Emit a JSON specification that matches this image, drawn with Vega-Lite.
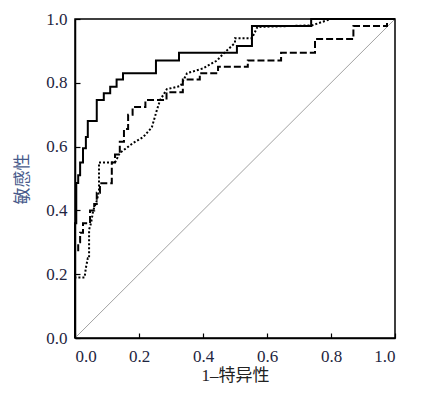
{
  "$schema": "https://vega.github.io/schema/vega-lite/v6.json",
  "autosize": {"type": "none"},
  "padding": {"left": 75, "top": 19, "right": 34, "bottom": 58},
  "width": 320,
  "height": 319,
  "background": "white",
  "config": {
    "view": {"stroke": "#000", "strokeWidth": 1.5},
    "axis": {
      "grid": false,
      "domainColor": "#000",
      "domainWidth": 1.5,
      "tickColor": "#000",
      "tickWidth": 1.2,
      "tickSize": -5,
      "labelFont": "Liberation Serif",
      "labelFontSize": 17,
      "labelColor": "#1e2540",
      "titleFont": "Liberation Serif, Noto Sans CJK SC",
      "titleFontSize": 17,
      "titleFontWeight": "normal"
    }
  },
  "datasets": {
    "roc": [
      {"s": "A", "o": 1, "x": 0, "y": 0},
      {"s": "A", "o": 2, "x": 0, "y": 0.36},
      {"s": "A", "o": 3, "x": 0.004, "y": 0.36},
      {"s": "A", "o": 4, "x": 0.004, "y": 0.486},
      {"s": "A", "o": 5, "x": 0.01, "y": 0.486},
      {"s": "A", "o": 6, "x": 0.01, "y": 0.51},
      {"s": "A", "o": 7, "x": 0.016, "y": 0.51},
      {"s": "A", "o": 8, "x": 0.016, "y": 0.55},
      {"s": "A", "o": 9, "x": 0.025, "y": 0.55},
      {"s": "A", "o": 10, "x": 0.025, "y": 0.595},
      {"s": "A", "o": 11, "x": 0.034, "y": 0.595},
      {"s": "A", "o": 12, "x": 0.034, "y": 0.63},
      {"s": "A", "o": 13, "x": 0.04, "y": 0.63},
      {"s": "A", "o": 14, "x": 0.04, "y": 0.68},
      {"s": "A", "o": 15, "x": 0.068, "y": 0.68},
      {"s": "A", "o": 16, "x": 0.068, "y": 0.746},
      {"s": "A", "o": 17, "x": 0.09, "y": 0.746},
      {"s": "A", "o": 18, "x": 0.09, "y": 0.767},
      {"s": "A", "o": 19, "x": 0.11, "y": 0.767},
      {"s": "A", "o": 20, "x": 0.11, "y": 0.788},
      {"s": "A", "o": 21, "x": 0.13, "y": 0.788},
      {"s": "A", "o": 22, "x": 0.13, "y": 0.81},
      {"s": "A", "o": 23, "x": 0.15, "y": 0.81},
      {"s": "A", "o": 24, "x": 0.15, "y": 0.83},
      {"s": "A", "o": 25, "x": 0.253, "y": 0.83},
      {"s": "A", "o": 26, "x": 0.253, "y": 0.87},
      {"s": "A", "o": 27, "x": 0.325, "y": 0.87},
      {"s": "A", "o": 28, "x": 0.325, "y": 0.894},
      {"s": "A", "o": 29, "x": 0.506, "y": 0.894},
      {"s": "A", "o": 30, "x": 0.506, "y": 0.915},
      {"s": "A", "o": 31, "x": 0.553, "y": 0.915},
      {"s": "A", "o": 32, "x": 0.553, "y": 0.978},
      {"s": "A", "o": 33, "x": 0.738, "y": 0.978},
      {"s": "A", "o": 34, "x": 0.738, "y": 1},
      {"s": "A", "o": 35, "x": 1, "y": 1},

      {"s": "B", "o": 1, "x": 0, "y": 0},
      {"s": "B", "o": 2, "x": 0, "y": 0.27},
      {"s": "B", "o": 3, "x": 0.01, "y": 0.27},
      {"s": "B", "o": 4, "x": 0.01, "y": 0.30},
      {"s": "B", "o": 5, "x": 0.016, "y": 0.30},
      {"s": "B", "o": 6, "x": 0.016, "y": 0.33},
      {"s": "B", "o": 7, "x": 0.025, "y": 0.33},
      {"s": "B", "o": 8, "x": 0.025, "y": 0.36},
      {"s": "B", "o": 9, "x": 0.047, "y": 0.36},
      {"s": "B", "o": 10, "x": 0.047, "y": 0.40},
      {"s": "B", "o": 11, "x": 0.06, "y": 0.40},
      {"s": "B", "o": 12, "x": 0.06, "y": 0.42},
      {"s": "B", "o": 13, "x": 0.068, "y": 0.42},
      {"s": "B", "o": 14, "x": 0.068, "y": 0.455},
      {"s": "B", "o": 15, "x": 0.078, "y": 0.455},
      {"s": "B", "o": 16, "x": 0.078, "y": 0.485},
      {"s": "B", "o": 17, "x": 0.115, "y": 0.485},
      {"s": "B", "o": 18, "x": 0.115, "y": 0.55},
      {"s": "B", "o": 19, "x": 0.125, "y": 0.55},
      {"s": "B", "o": 20, "x": 0.125, "y": 0.575},
      {"s": "B", "o": 21, "x": 0.14, "y": 0.575},
      {"s": "B", "o": 22, "x": 0.14, "y": 0.615},
      {"s": "B", "o": 23, "x": 0.153, "y": 0.615},
      {"s": "B", "o": 24, "x": 0.153, "y": 0.655},
      {"s": "B", "o": 25, "x": 0.166, "y": 0.655},
      {"s": "B", "o": 26, "x": 0.166, "y": 0.70},
      {"s": "B", "o": 27, "x": 0.18, "y": 0.70},
      {"s": "B", "o": 28, "x": 0.18, "y": 0.724},
      {"s": "B", "o": 29, "x": 0.22, "y": 0.724},
      {"s": "B", "o": 30, "x": 0.22, "y": 0.746},
      {"s": "B", "o": 31, "x": 0.286, "y": 0.746},
      {"s": "B", "o": 32, "x": 0.286, "y": 0.77},
      {"s": "B", "o": 33, "x": 0.337, "y": 0.77},
      {"s": "B", "o": 34, "x": 0.337, "y": 0.81},
      {"s": "B", "o": 35, "x": 0.39, "y": 0.81},
      {"s": "B", "o": 36, "x": 0.39, "y": 0.83},
      {"s": "B", "o": 37, "x": 0.447, "y": 0.83},
      {"s": "B", "o": 38, "x": 0.447, "y": 0.85},
      {"s": "B", "o": 39, "x": 0.54, "y": 0.85},
      {"s": "B", "o": 40, "x": 0.54, "y": 0.87},
      {"s": "B", "o": 41, "x": 0.644, "y": 0.87},
      {"s": "B", "o": 42, "x": 0.644, "y": 0.894},
      {"s": "B", "o": 43, "x": 0.75, "y": 0.894},
      {"s": "B", "o": 44, "x": 0.75, "y": 0.937},
      {"s": "B", "o": 45, "x": 0.87, "y": 0.937},
      {"s": "B", "o": 46, "x": 0.87, "y": 0.978},
      {"s": "B", "o": 47, "x": 0.975, "y": 0.978},
      {"s": "B", "o": 48, "x": 0.975, "y": 1},
      {"s": "B", "o": 49, "x": 1, "y": 1},

      {"s": "C", "o": 1, "x": 0, "y": 0},
      {"s": "C", "o": 2, "x": 0, "y": 0.19},
      {"s": "C", "o": 3, "x": 0.03, "y": 0.19},
      {"s": "C", "o": 4, "x": 0.034, "y": 0.22},
      {"s": "C", "o": 5, "x": 0.04, "y": 0.25},
      {"s": "C", "o": 6, "x": 0.044, "y": 0.25},
      {"s": "C", "o": 7, "x": 0.044, "y": 0.34},
      {"s": "C", "o": 8, "x": 0.05, "y": 0.36},
      {"s": "C", "o": 9, "x": 0.057, "y": 0.40},
      {"s": "C", "o": 10, "x": 0.068, "y": 0.43},
      {"s": "C", "o": 11, "x": 0.075, "y": 0.46},
      {"s": "C", "o": 12, "x": 0.075, "y": 0.55},
      {"s": "C", "o": 13, "x": 0.125, "y": 0.55},
      {"s": "C", "o": 14, "x": 0.14, "y": 0.58},
      {"s": "C", "o": 15, "x": 0.18, "y": 0.61},
      {"s": "C", "o": 16, "x": 0.213, "y": 0.63},
      {"s": "C", "o": 17, "x": 0.24, "y": 0.66},
      {"s": "C", "o": 18, "x": 0.256, "y": 0.715},
      {"s": "C", "o": 19, "x": 0.266, "y": 0.746},
      {"s": "C", "o": 20, "x": 0.287, "y": 0.78},
      {"s": "C", "o": 21, "x": 0.33, "y": 0.79},
      {"s": "C", "o": 22, "x": 0.35, "y": 0.83},
      {"s": "C", "o": 23, "x": 0.40, "y": 0.845},
      {"s": "C", "o": 24, "x": 0.444, "y": 0.87},
      {"s": "C", "o": 25, "x": 0.4625, "y": 0.89},
      {"s": "C", "o": 26, "x": 0.50, "y": 0.925},
      {"s": "C", "o": 27, "x": 0.50, "y": 0.94},
      {"s": "C", "o": 28, "x": 0.553, "y": 0.94},
      {"s": "C", "o": 29, "x": 0.57, "y": 0.975},
      {"s": "C", "o": 30, "x": 0.74, "y": 0.98},
      {"s": "C", "o": 31, "x": 0.80, "y": 1},
      {"s": "C", "o": 32, "x": 1, "y": 1}
    ],
    "diag": [
      {"x": 0, "y": 0},
      {"x": 1, "y": 1}
    ]
  },
  "layer": [
    {
      "data": {"name": "diag"},
      "mark": {"type": "line", "color": "#8a8a8a", "strokeWidth": 0.8},
      "encoding": {
        "x": {"field": "x", "type": "quantitative", "scale": {"domain": [0, 1]}, "axis": {"values": [0, 0.2, 0.4, 0.6, 0.8, 1], "format": ".1f", "title": "1–特异性", "titleColor": "#222", "labelPadding": 15, "titlePadding": 3}},
        "y": {"field": "y", "type": "quantitative", "scale": {"domain": [0, 1]}, "axis": {"values": [0, 0.2, 0.4, 0.6, 0.8, 1], "format": ".1f", "title": "敏感性", "titleColor": "#46598a", "labelPadding": 13, "titlePadding": 14}}
      }
    },
    {
      "data": {"name": "roc"},
      "mark": {"type": "line", "color": "#000", "strokeWidth": 2},
      "encoding": {
        "x": {"field": "x", "type": "quantitative"},
        "y": {"field": "y", "type": "quantitative"},
        "order": {"field": "o", "type": "quantitative"},
        "detail": {"field": "s", "type": "nominal"},
        "strokeDash": {"field": "s", "type": "nominal", "scale": {"domain": ["A", "B", "C"], "range": [[1, 0], [7, 3], [2, 2]]}, "legend": null}
      }
    }
  ]
}
